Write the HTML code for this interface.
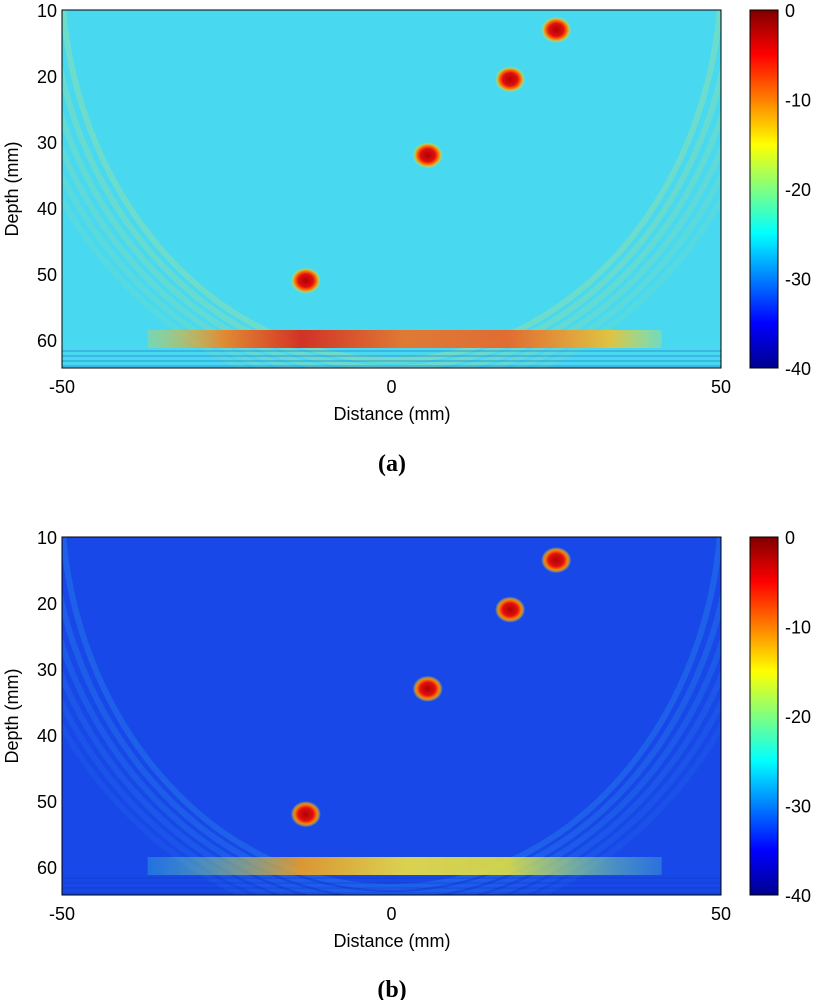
<!DOCTYPE html>
<html><head><meta charset="utf-8"><style>
body{margin:0;background:#fff;width:830px;height:1000px;overflow:hidden}
svg text{font-family:"Liberation Sans",Arial,sans-serif;font-size:18px;fill:#000}
</style></head><body>
<svg id="s" width="830" height="1000" xmlns="http://www.w3.org/2000/svg">
<defs>
<linearGradient id="jet" x1="0" y1="1" x2="0" y2="0">
<stop offset="0" stop-color="#00008f"/><stop offset="0.125" stop-color="#0000ff"/>
<stop offset="0.375" stop-color="#00ffff"/><stop offset="0.625" stop-color="#ffff00"/>
<stop offset="0.875" stop-color="#ff0000"/><stop offset="1" stop-color="#800000"/>
</linearGradient>
<radialGradient id="blobA"><stop offset="0" stop-color="#b00000"/><stop offset="0.5" stop-color="#e01010"/><stop offset="0.75" stop-color="#ff8000"/><stop offset="1" stop-color="#ffff00" stop-opacity="0"/></radialGradient>
<linearGradient id="bandA" x1="0" y1="0" x2="1" y2="0">
<stop offset="0" stop-color="#f0d020" stop-opacity="0.3"/><stop offset="0.15" stop-color="#f08020"/><stop offset="0.3" stop-color="#e02010"/><stop offset="0.5" stop-color="#f07020"/><stop offset="0.7" stop-color="#f06020"/><stop offset="0.9" stop-color="#f0c030"/><stop offset="1" stop-color="#e0e040" stop-opacity="0.3"/></linearGradient>
<linearGradient id="bandB" x1="0" y1="0" x2="1" y2="0">
<stop offset="0" stop-color="#40e0d0" stop-opacity="0.3"/><stop offset="0.3" stop-color="#f0a020"/><stop offset="0.5" stop-color="#f0e040"/><stop offset="0.7" stop-color="#e0e040"/><stop offset="1" stop-color="#60e0c0" stop-opacity="0.3"/></linearGradient>
</defs>
<g id="panels"></g>
<text x="392" y="471" text-anchor="middle" style="font-family:'Liberation Serif',serif;font-weight:bold;font-size:24px">(a)</text>
<text x="392" y="997" text-anchor="middle" style="font-family:'Liberation Serif',serif;font-weight:bold;font-size:24px">(b)</text>
</svg>
<script>
const xTicks=[-50,0,50];
const yTicks=[10,20,30,40,50,60];
const cbTicks=[0,-10,-20,-30,-40];
const targetsAX=[25,18,5.5,-13];
const targetsAD=[13,20.5,32,51];
const targetsBX=[25,18,5.5,-13];
const targetsBD=[13.5,21,33,52];
const bandDepth=60;
const bandStart=-37, bandEnd=41;
const NS='http://www.w3.org/2000/svg';
const root=document.getElementById('panels');
function mk(t,a,p){const e=document.createElementNS(NS,t);for(const k in a)e.setAttribute(k,a[k]);(p||root).appendChild(e);return e;}
function panel(top,bg,arc,tx,td,band,id){
  const L=62,R=721,B=top+358;
  const sx=v=>L+(v+50)/100*(R-L);
  const sy=d=>top+(d-10)*6.6;
  const g=mk('g',{});
  
  
  mk('clipPath',{id:'c'+id},g);
  mk('rect',{x:L,y:top,width:R-L,height:B-top},g.lastChild);
  const im=mk('g',{'clip-path':'url(#c'+id+')'},g);
  mk('rect',{x:L,y:top,width:R-L,height:B-top,fill:bg},im);
  for(let i=0;i<6;i++) mk('ellipse',{cx:sx(0),cy:sy(10)-40,rx:330+i*12,ry:390+i*8,fill:'none',stroke:arc,'stroke-width':6,opacity:0.25-i*0.03},im);
  const bd=mk('rect',{x:sx(bandStart),y:sy(bandDepth)-10,width:sx(bandEnd)-sx(bandStart),height:18,fill:band,opacity:0.9},im);
  
  
  for(let i=0;i<4;i++) mk('line',{x1:L,x2:R,y1:sy(bandDepth)+11+i*5,y2:sy(bandDepth)+11+i*5,stroke:'#1030b0','stroke-width':1,opacity:0.4},im);
  for(let i=0;i<tx.length;i++){
    const c=mk('ellipse',{cx:sx(tx[i]),cy:sy(td[i]),rx:15,ry:13,fill:'url(#blobA)'},im);
    
    
  }
  mk('rect',{x:L,y:top,width:R-L,height:B-top,fill:'none',stroke:'#000','stroke-width':1},g);
  xTicks.forEach(v=>{const t=mk('text',{x:sx(v),y:B+25,'text-anchor':'middle'},g);t.textContent=v;
    });
  yTicks.forEach(v=>{const t=mk('text',{x:L-5,y:sy(v)+7,'text-anchor':'end'},g);t.textContent=v;
    });
  const xl=mk('text',{x:392,y:B+52,'text-anchor':'middle'},g);xl.textContent='Distance (mm)';
  
  const yl=mk('text',{x:0,y:0,'text-anchor':'middle',transform:'translate(18,'+((top+B)/2)+') rotate(-90)'},g);yl.textContent='Depth (mm)';
  
  const cb=mk('rect',{x:750,y:top,width:28,height:B-top,fill:'url(#jet)',stroke:'#000'},g);
  
  cbTicks.forEach(v=>{const y=top+(-v)/40*(B-top);const t=mk('text',{x:785,y:y+7},g);t.textContent=v;
    });
}
panel(10,'#48d8f0','#d8e860',targetsAX,targetsAD,'url(#bandA)','a');
panel(537,'#1848e8','#30a8f0',targetsBX,targetsBD,'url(#bandB)','b');
</script>
</body></html>
